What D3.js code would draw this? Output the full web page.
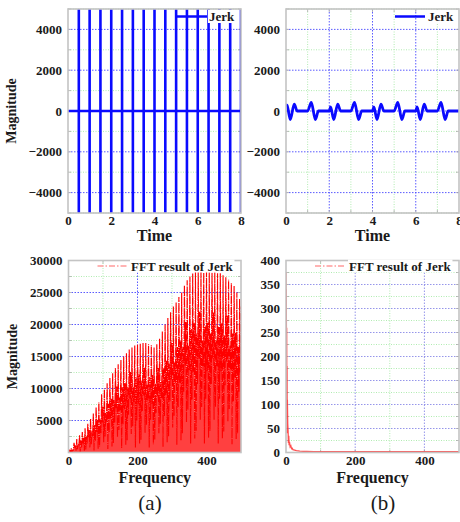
<!DOCTYPE html>
<html><head><meta charset="utf-8">
<script src="https://cdn.jsdelivr.net/npm/d3@7/dist/d3.min.js"></script>
<style>
html,body{margin:0;padding:0;background:#fff;overflow:hidden}
svg{display:block}
</style></head><body>
<svg id="c" width="460" height="522"></svg>
<script>
// ---------- data ----------
const seriesName = "Jerk";
const fftName = "FFT result of Jerk";
const panelLabels = ["(a)", "(b)"];
const xTitleTime = "Time", xTitleFreq = "Frequency", yTitle = "Magnitude";

// (a) raw jerk: impulses at these times, off-scale amplitude, plus flat zero line
const jerkRawTimes = [0.5,1,1.5,2,2.5,3,3.5,4,4.5,5,5.5,6,6.5,7,7.5,8];
const jerkRawSpike = [-60000, 60000];
const jerkRawFlatT = [0, 8];
const jerkRawFlatV = [0, 0];

// (b) smoothed jerk
const jerkFiltT = [0,0.05,0.2,0.38,0.52, 1.0,1.17,1.36,1.5, 2.0,2.06,2.21,2.39,2.53, 3.0,3.17,3.36,3.5,
                   4.0,4.06,4.21,4.39,4.53, 5.0,5.17,5.36,5.5, 6.0,6.06,6.21,6.39,6.53, 7.0,7.17,7.36,7.5, 8.0];
const jerkFiltV = [300,280,-420,340,0, 0,420,-420,0, 0,200,-420,340,0, 0,420,-420,0,
                   0,200,-420,340,0, 0,420,-420,0, 0,200,-420,340,0, 0,420,-420,0, 0];

// (a) FFT magnitude sampled every fftRawStep Hz (0..500)
const fftRawStep = 2;
const fftRawMag = [
 0,150,450,80, 700,80,460,270, 1500,780,1170,270, 2100,530,1300,1000, 2700,140,1900,800,
 3200,1400,2300,260, 3800,460,2500,1400, 4500,2300,3500,800, 5300,1300,3300,2500, 6100,300,4300,1800,
 7100,3200,5100,570, 7900,950,5200,3000, 9100,4700,7100,1600, 10000,2500,6200,4800, 10800,540,7600,3200,
 11700,5300,8400,940, 12400,1500,8200,4700, 13200,6900,10300,2400, 13800,3500,8600,6600, 14500,700,10200,4400,
 15000,6750,10800,1200, 15500,1900,10200,5900, 16100,8400,12600,2900, 16400,4100,10200,7900, 16700,800,11700,5000,
 16900,7600,12200,1400, 17000,2000,11200,6500, 17100,8900,13300,3100, 17100,4300,10600,8200, 16900,800,11800,5100,
 16800,7600,12100,1300, 16400,2000,10800,6200, 16900,8800,13200,3000, 17800,4500,11000,8500, 18900,900,13200,5700,
 20000,9000,14400,1600, 21000,2500,13900,8000, 21900,11400,17100,3900, 22800,5700,14100,10900, 23500,1200,16500,7100,
 24300,10900,17500,1900, 25000,3000,16500,9500, 26100,13600,20400,4700, 26900,6700,16700,12900, 27500,1400,19300,8300,
 28000,12600,20200,2200, 28200,3400,18600,10700, 28200,14700,22000,5100, 28200,7100,17500,13500, 28100,1400,19700,8400,
 28200,12700,20300,2300, 28200,3400,18600,10700, 28100,14600,21900,5100, 28200,7100,17500,13500, 28000,1400,19600,8400,
 28000,12600,20200,2200, 27700,3300,18300,10500, 27400,14200,21400,4900, 27000,6800,16700,13000, 26500,1300,18600,8000,
 26000,11700,18700,2100, 25000,3000,16500,9500, 24000,12500,22800];

// (b) FFT magnitude
const fftFiltFreq = [0,0.5,1,1.5,2,2.5,3,3.5,4,5,6,7,8,9,10,12,14,16,18,20,25,30,35,40,50,60,80,100,150,200,250,300,350,400,450,500];
const fftFiltMag  = [375,120,340,90,260,70,180,40,110,60,45,20,35,15,22,12,14,8,9,6,5,4,3.5,3,2.5,2.5,2,2,2,2,2,2,2,2,2,2];

// ticks
const timeTicks = [0,2,4,6,8], timeMinor = [1,3,5,7];
const magTopTicks = [-4000,-2000,0,2000,4000], magTopMinor = [-5000,-3000,-1000,1000,3000,5000];
const freqTicks = [0,200,400], freqMajorGrid = [200,400], freqMinor = [100,300];
const magATicks = [5000,10000,15000,20000,25000,30000], magAMinor = [2500,7500,12500,17500,22500,27500];
const magBTicks = [0,50,100,150,200,250,300,350,400], magBMinor = [25,75,125,175,225,275,325,375];

// ---------- drawing ----------
const FONT = "'Liberation Serif','Times New Roman',serif";
const svg = d3.select("#c");
const defs = svg.append("defs");
const fmt = d3.format("d");

function panel(o) {
  const x = d3.scaleLinear().domain(o.xd).range([0, o.w]);
  const y = d3.scaleLinear().domain(o.yd).range([o.h, 0]);
  const g = svg.append("g").attr("transform", `translate(${o.left},${o.top})`);
  defs.append("clipPath").attr("id", "cl" + o.id).append("rect").attr("width", o.w).attr("height", o.h);

  const grid = (sel, vals, horiz, cls) => {
    vals.forEach(v => {
      const l = sel.append("line");
      if (horiz) l.attr("x1", 0).attr("x2", o.w).attr("y1", y(v)).attr("y2", y(v));
      else l.attr("y1", 0).attr("y2", o.h).attr("x1", x(v)).attr("x2", x(v));
      if (cls === "minor") l.attr("stroke", "#a8eaa8").attr("stroke-width", 0.9).attr("stroke-dasharray", "1,1.5");
      else l.attr("stroke", o.majorColor || "#4848ff").attr("stroke-width", 0.9).attr("stroke-dasharray", "1.5,1.5");
    });
  };
  const gg = g.append("g");
  grid(gg, o.xMinor, false, "minor");
  grid(gg, o.yMinor, true, "minor");
  grid(gg, o.xMajor, false, "major");
  grid(gg, o.yMajor, true, "major");

  // inner tick marks
  const tk = g.append("g").attr("stroke", "#aaa").attr("stroke-width", 0.8);
  o.xMajor.concat(o.xMinor).forEach(v => {
    tk.append("line").attr("x1", x(v)).attr("x2", x(v)).attr("y1", 0).attr("y2", 3);
    tk.append("line").attr("x1", x(v)).attr("x2", x(v)).attr("y1", o.h).attr("y2", o.h - 3);
  });
  o.yMajor.concat(o.yMinor).forEach(v => {
    tk.append("line").attr("y1", y(v)).attr("y2", y(v)).attr("x1", 0).attr("x2", 3);
    tk.append("line").attr("y1", y(v)).attr("y2", y(v)).attr("x1", o.w).attr("x2", o.w - 3);
  });

  const plot = g.append("g").attr("clip-path", `url(#cl${o.id})`);
  o.draw(plot, x, y);

  g.append("rect").attr("width", o.w).attr("height", o.h).attr("fill", "none")
    .attr("stroke", "#c4c4c4").attr("stroke-width", 1.6);

  // axes labels
  const ax = g.append("g").attr("transform", `translate(0,${o.h})`)
    .call(d3.axisBottom(x).tickValues(o.xTicks).tickSize(0).tickPadding(3).tickFormat(fmt));
  const ay = g.append("g")
    .call(d3.axisLeft(y).tickValues(o.yTicks).tickSize(0).tickPadding(6).tickFormat(fmt));
  [ax, ay].forEach(a => {
    a.attr("font-family", null).attr("font-size", null);
    a.select(".domain").remove();
    a.selectAll("text").style("font-family", FONT).style("font-weight", "bold")
      .style("font-size", "13px").attr("fill", "#1a1a1a");
  });

  g.append("text").attr("x", o.w / 2).attr("y", o.h + o.xtY).attr("text-anchor", "middle")
    .style("font-family", FONT).style("font-weight", "bold").style("font-size", "16px").attr("fill", "#1a1a1a").text(o.xTitle);
  if (o.yTitle) {
    g.append("text").attr("transform", `translate(${o.ytX},${o.h / 2}) rotate(-90)`).attr("text-anchor", "middle")
      .style("font-family", FONT).style("font-weight", "bold").style("font-size", "14px").attr("fill", "#1a1a1a").text(o.yTitle);
  }
  // legend
  const L = o.legend;
  const lg = g.append("g");
  const tw = lg.append("text").attr("x", L.tx).attr("y", L.ty)
    .style("font-family", FONT).style("font-weight", "bold").style("font-size", "13px")
    .attr("fill", "#1a1a1a").text(L.label);
  const bb = tw.node().getBBox();
  lg.insert("rect", "text").attr("x", bb.x - 1).attr("y", bb.y + 1).attr("width", Math.min(bb.width + 2, o.w - bb.x))
    .attr("height", bb.height - 2).attr("fill", "#fff");
  lg.insert("line", "text").attr("x1", L.x1).attr("x2", L.x2).attr("y1", L.ly).attr("y2", L.ly)
    .attr("stroke", L.color).attr("stroke-width", L.sw).attr("stroke-dasharray", L.dash || null);
  return {x, y};
}

const blue = "#0a0aff";

// (a) top
panel({
  id: "a1", left: 68, top: 9, w: 173, h: 204, xd: [0, 8], yd: [-5000, 5000],
  xMajor: [2, 4, 6], xMinor: timeMinor, yMajor: [-4000, -2000, 2000, 4000], yMinor: magTopMinor,
  xTicks: timeTicks, yTicks: magTopTicks, xTitle: xTitleTime, yTitle: yTitle, xtY: 28, ytX: -52,
  legend: {label: seriesName, tx: 141, ty: 12, x1: 109, x2: 139, ly: 7.5, color: blue, sw: 2.5},
  draw: (p, x, y) => {
    p.append("path").datum(jerkRawFlatT.map((t, i) => [t, jerkRawFlatV[i]]))
      .attr("d", d3.line().x(d => x(d[0])).y(d => y(d[1]))).attr("stroke", blue).attr("stroke-width", 2.6).attr("fill", "none");
    p.selectAll("line.sp").data(jerkRawTimes).join("line").attr("class", "sp")
      .attr("x1", d => x(d)).attr("x2", d => x(d)).attr("y1", y(jerkRawSpike[0])).attr("y2", y(jerkRawSpike[1]))
      .attr("stroke", blue).attr("stroke-width", 2.6);
  }
});

// (b) top
panel({
  id: "b1", left: 286, top: 9, w: 173, h: 204, xd: [0, 8], yd: [-5000, 5000],
  xMajor: [2, 4, 6], xMinor: timeMinor, yMajor: magTopTicks, yMinor: magTopMinor,
  xTicks: timeTicks, yTicks: magTopTicks, xTitle: xTitleTime, yTitle: null, xtY: 28,
  legend: {label: seriesName, tx: 142, ty: 12, x1: 109, x2: 139, ly: 7.5, color: blue, sw: 2.5},
  draw: (p, x, y) => {
    p.append("path").datum(jerkFiltT.map((t, i) => [t, jerkFiltV[i]]))
      .attr("d", d3.line().curve(d3.curveMonotoneX).x(d => x(d[0])).y(d => y(d[1])))
      .attr("stroke", blue).attr("stroke-width", 2.8).attr("fill", "none").attr("stroke-linejoin", "round");
  }
});

// (a) bottom
panel({
  id: "a2", left: 68.5, top: 260.5, w: 172.5, h: 192, xd: [0, 500], yd: [0, 30000],
  xMajor: freqMajorGrid, xMinor: freqMinor, yMajor: magATicks.slice(0, 5), yMinor: magAMinor,
  xTicks: freqTicks, yTicks: magATicks, xTitle: xTitleFreq, yTitle: yTitle, xtY: 30, ytX: -52,
  legend: {label: fftName, tx: 62.5, ty: 10, x1: 29, x2: 59, ly: 5.5, color: "#ff9a9a", sw: 1.6, dash: "6,2,1.5,2"},
  draw: (p, x, y) => {
    const pts = fftRawMag.map((v, i) => [i * fftRawStep, v]);
    p.append("path").datum(pts)
      .attr("d", d3.area().x(d => x(d[0])).y0(y(0)).y1(d => y(d[1])))
      .attr("fill", "#ff4040").attr("stroke", "none");
    p.append("path").datum(pts)
      .attr("d", d3.line().x(d => x(d[0])).y(d => y(d[1])))
      .attr("stroke", "#ff0000").attr("stroke-width", 1.15).attr("fill", "none")
      .attr("stroke-linejoin", "bevel").attr("stroke-dasharray", "8,1,1.2,1");
  }
});

// (b) bottom
panel({
  id: "b2", left: 286, top: 260.5, w: 173, h: 192, xd: [0, 500], yd: [0, 400],
  xMajor: freqMajorGrid, xMinor: freqMinor, yMajor: magBTicks.slice(1, 8), yMinor: magBMinor, majorColor: "#8a8ae8",
  xTicks: freqTicks, yTicks: magBTicks, xTitle: xTitleFreq, yTitle: null, xtY: 30,
  legend: {label: fftName, tx: 63, ty: 10, x1: 29, x2: 59, ly: 5.5, color: "#ff9a9a", sw: 1.6, dash: "6,2,1.5,2"},
  draw: (p, x, y) => {
    p.append("path").datum(fftFiltFreq.map((f, i) => [f, fftFiltMag[i]]))
      .attr("d", d3.line().x(d => x(d[0])).y(d => y(d[1])))
      .attr("stroke", "#ff3030").attr("stroke-width", 1.3).attr("fill", "none").attr("stroke-opacity", 0.85);
  }
});

// panel captions
svg.append("text").attr("x", 150).attr("y", 510).attr("text-anchor", "middle").style("font-family", FONT).style("font-size", "21px").attr("fill", "#1a1a1a").text(panelLabels[0]);
svg.append("text").attr("x", 383).attr("y", 510).attr("text-anchor", "middle").style("font-family", FONT).style("font-size", "21px").attr("fill", "#1a1a1a").text(panelLabels[1]);
</script>
</body></html>
